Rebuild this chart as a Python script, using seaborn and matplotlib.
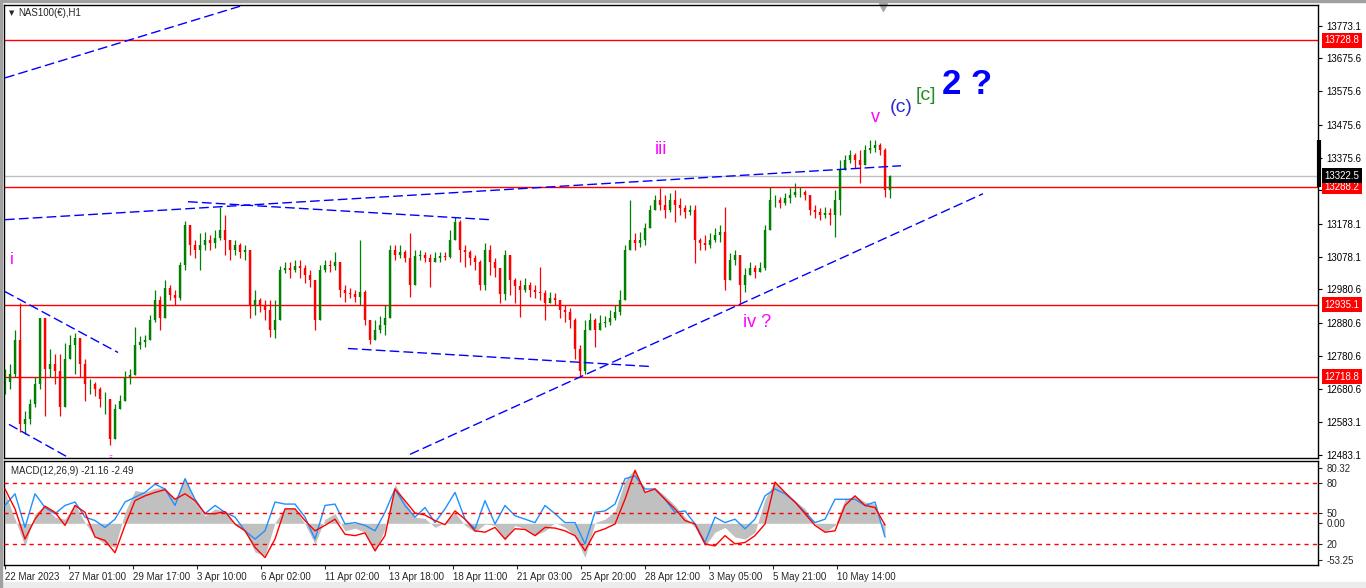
import numpy as np
import matplotlib
matplotlib.use('Agg')
import matplotlib.pyplot as plt
import matplotlib.transforms as mtransforms
from matplotlib.patches import Rectangle
import seaborn as sns

bar_step = 5
closes = [12701, 12725, 12830, 12575, 12590, 12635, 12695, 12896, 12740, 12755,
          12734, 12626, 12770, 12815, 12836, 12755, 12695, 12695, 12680, 12650,
          12650, 12530, 12620, 12644, 12716, 12722, 12815, 12824, 12830, 12890,
          12950, 12896, 12986, 12965, 12956, 13055, 13175, 13115, 13100, 13115,
          13130, 13121, 13136, 13160, 13130, 13100, 13115, 13094, 13100, 12935,
          12950, 12935, 12920, 12860, 12890, 13040, 13046, 13040, 13052, 13046,
          13025, 13010, 12890, 13040, 13055, 13052, 13064, 12980, 12971, 12968,
          12959, 12974, 12890, 12830, 12860, 12875, 12896, 13100, 13085, 13094,
          13076, 12995, 13082, 13085, 13076, 13064, 13076, 13082, 13079, 13130,
          13184, 13100, 13094, 13076, 13064, 12995, 13100, 13064, 13046, 12968,
          13085, 13010, 12992, 12980, 12995, 12980, 12974, 12971, 12941, 12956,
          12950, 12920, 12914, 12890, 12800, 12734, 12860, 12890, 12860, 12881,
          12884, 12896, 12914, 12950, 13100, 13130, 13121, 13130, 13166, 13220,
          13250, 13235, 13220, 13250, 13235, 13226, 13214, 13220, 13130, 13121,
          13115, 13130, 13145, 13154, 13010, 13070, 13085, 12995, 13025, 13046,
          13034, 13046, 13160, 13250, 13250, 13241, 13256, 13265, 13274, 13274,
          13265, 13220, 13214, 13205, 13211, 13205, 13250, 13340, 13370, 13385,
          13370, 13355, 13400, 13406, 13415, 13400, 13280, 13322]
highs = [12740, 12755, 12860, 12941, 12614, 12650, 12716, 12896, 12830, 12800,
         12785, 12785, 12821, 12845, 12851, 12815, 12770, 12710, 12701, 12686,
         12671, 12650, 12635, 12662, 12734, 12740, 12869, 12842, 12845, 12905,
         12980, 12962, 13010, 12995, 12980, 13064, 13187, 13145, 13130, 13151,
         13154, 13145, 13160, 13229, 13205, 13130, 13130, 13121, 13115, 13100,
         12980, 12956, 12950, 12950, 12950, 13052, 13064, 13064, 13070, 13070,
         13055, 13040, 12950, 13055, 13070, 13070, 13094, 13040, 12995, 12986,
         12980, 13130, 12980, 12890, 12890, 12902, 12935, 13115, 13115, 13115,
         13100, 13151, 13100, 13100, 13094, 13088, 13094, 13094, 13094, 13160,
         13199, 13190, 13115, 13100, 13085, 13070, 13121, 13115, 13076, 13046,
         13100, 13055, 13016, 13010, 13016, 13004, 12995, 13049, 12980, 12974,
         12971, 12950, 12935, 12926, 12896, 12815, 12890, 12911, 12896, 12905,
         12902, 12920, 12935, 12980, 13115, 13250, 13151, 13154, 13181, 13235,
         13265, 13286, 13265, 13271, 13280, 13256, 13235, 13235, 13235, 13136,
         13145, 13151, 13166, 13175, 13229, 13091, 13100, 13085, 13046, 13064,
         13055, 13064, 13175, 13289, 13265, 13259, 13271, 13286, 13301, 13289,
         13280, 13265, 13235, 13226, 13229, 13226, 13280, 13370, 13385, 13400,
         13391, 13400, 13415, 13430, 13430, 13421, 13406, 13325]
lows = [12665, 12680, 12716, 12551, 12545, 12575, 12626, 12680, 12599, 12716,
        12695, 12599, 12665, 12770, 12725, 12716, 12644, 12665, 12659, 12626,
        12605, 12512, 12530, 12620, 12656, 12695, 12725, 12800, 12806, 12830,
        12884, 12860, 12950, 12950, 12935, 12950, 13040, 13085, 13076, 13040,
        13100, 13100, 13106, 13130, 13085, 13070, 13085, 13076, 13070, 12896,
        12905, 12914, 12890, 12839, 12836, 12950, 13031, 13016, 13034, 13016,
        13001, 12989, 12860, 12920, 13034, 13034, 13040, 12959, 12944, 12956,
        12944, 12935, 12875, 12818, 12836, 12851, 12845, 12935, 13070, 13076,
        13064, 12959, 13064, 13070, 13064, 12989, 13064, 13064, 13070, 13076,
        13145, 13064, 13049, 13055, 13040, 12980, 12980, 13025, 13019, 12941,
        12950, 12965, 12941, 12899, 12974, 12959, 12956, 12950, 12890, 12944,
        12935, 12896, 12884, 12866, 12770, 12719, 12725, 12860, 12806, 12860,
        12869, 12875, 12890, 12905, 12950, 13100, 13100, 13109, 13115, 13175,
        13226, 13220, 13196, 13214, 13184, 13205, 13196, 13205, 13061, 13100,
        13100, 13106, 13124, 13124, 12980, 13025, 13055, 12941, 12974, 13025,
        13016, 13034, 13040, 13160, 13229, 13226, 13235, 13241, 13259, 13259,
        13250, 13205, 13196, 13190, 13196, 13175, 13139, 13205, 13346, 13361,
        13346, 13301, 13385, 13391, 13394, 13385, 13259, 13256]

# MACD window, sampled every 10 hours
macd_step = 10
macd_hist = [45, 6, -33, 14, 26, 9, 6, 28, 1, -20,
             -30, -35, 16, 48, 45, 51, 52, 35, 67, 31,
             11, 21, 18, -3, -11, -42, -47, 1, 23, 22,
             -1, -30, 6, 14, -11, -7, -13, -42, -8, 57,
             31, 9, 7, -6, 1, 16, -3, -13, -1, -3,
             -25, -3, -8, -18, -11, 1, -6, -18, -50, 1,
             6, 18, 62, 80, 45, 52, 40, 26, 9, -6,
             -33, -13, -6, -20, -23, -13, 35, 62, 43, 33,
             21, -1, -13, -3, 35, 40, 31, 28, -21]
macd_blue = [26, 43, -6, 43, 23, 14, 26, 31, 9, 4,
             -6, 6, 31, 38, 45, 57, 50, 26, 65, 35,
             14, 26, 16, 9, -11, -23, -11, 31, 28, 28,
             9, -23, 26, 28, -1, 1, -3, -11, 16, 50,
             26, 9, 23, 1, 21, 45, 6, -8, 33, -1,
             26, 11, 6, 1, 26, 14, 1, 1, -30, 16,
             18, 28, 65, 69, 50, 50, 35, 16, 18, -1,
             -28, 9, 1, 6, -8, 6, 40, 50, 43, 31,
             16, 1, 6, 35, 35, 35, 26, 31, -20]
macd_signal = [50, 21, -23, 6, 25, 16, -3, 26, 16, -20,
               -25, -43, -3, 33, 40, 45, 49, 35, 43, 33,
               14, 14, 17, -1, -11, -35, -50, -23, 21, 21,
               4, -11, -3, 6, -16, -18, -14, -40, -18, 50,
               33, 15, 12, 4, -2, 18, 6, -11, -13, -6,
               -23, -8, -9, -18, -6, -7, -11, -18, -40, -13,
               -8, -1, 35, 77, 45, 50, 35, 21, 4, -1,
               -30, -33, -18, -30, -28, -18, -1, 60, 45, 31,
               14, -3, -13, -11, 26, 40, 26, 23, -2.5]
macd_levels = [80, 50, 20]

price_ticks = [13773.1, 13675.6, 13575.6, 13475.6, 13375.6, 13278.1, 13178.1,
               13078.1, 12980.6, 12880.6, 12780.6, 12680.6, 12583.1, 12483.1]
red_levels = [13728.8, 13288.2, 12935.1, 12718.8]
bid_price = 13322.5
time_labels = ['22 Mar 2023', '27 Mar 01:00', '29 Mar 17:00', '3 Apr 10:00',
               '6 Apr 02:00', '11 Apr 02:00', '13 Apr 18:00', '18 Apr 11:00',
               '21 Apr 03:00', '25 Apr 20:00', '28 Apr 12:00', '3 May 05:00',
               '5 May 21:00', '10 May 14:00']
hours_per_label = 64

# drawn trend lines: (hour, price) -> (hour, price)
trend_lines = [((0, 13616), (250, 13845)),
               ((0, 13190), (896, 13352)),
               ((183, 13244), (485, 13190)),
               ((0, 12974), (113, 12791)),
               ((4, 12575), (75, 12456)),
               ((343, 12803), (645, 12749)),
               ((405, 12485), (978, 13268))]

# wave count labels: text, hour, price, colour, size, weight
wave_labels = [('i', 7, 13069, '#ff00ff', 12, 'normal'),
               ('iii', 656, 13400, '#ff00ff', 13, 'normal'),
               ('iv ?', 752, 12880, '#ff00ff', 13, 'normal'),
               ('v', 870, 13496, '#ff00ff', 13, 'normal'),
               ('(c)', 896, 13526, '#2b2bd6', 14, 'normal'),
               ('[c]', 921, 13562, '#1f8f1f', 14, 'normal'),
               ('2 ?', 962, 13595, '#0000ff', 25, 'bold')]

sns.set_style('white')
plt.rcParams['font.family'] = ['Liberation Sans', 'DejaVu Sans']

W, H = 1366, 588
fig = plt.figure(figsize=(W / 100, H / 100), dpi=100)
fig.patch.set_facecolor('white')


def frac(x0, y0, x1, y1):
    return [x0 / W, 1 - y1 / H, (x1 - x0) / W, (y1 - y0) / H]


ax = fig.add_axes(frac(4, 5, 1318, 458))
axm = fig.add_axes(frac(4, 461, 1318, 565))
xlim = (-1, 1313)

# candles
c = np.array(closes, dtype=float)
o = np.r_[c[0], c[:-1]]
hi = np.maximum(highs, np.maximum(o, c))
lo = np.minimum(lows, np.minimum(o, c))
hours = np.arange(len(c)) * bar_step
col = np.where(c >= o, '#008000', '#ff0000')
ax.vlines(hours, lo, hi, colors=col, lw=0.9, zorder=3)
ax.vlines(hours, np.minimum(o, c), np.maximum(o, c), colors=col, lw=1.7, zorder=3)

for p in red_levels:
    ax.axhline(p, color='#ff0000', lw=1, zorder=2)
ax.axhline(bid_price, color='#c0c0c0', lw=1, zorder=1)

for (x0, y0), (x1, y1) in trend_lines:
    ax.plot([x0, x1], [y0, y1], color='#0000ff', lw=1, dashes=(7, 3), zorder=4)

for txt, hx, py, clr, fs, fw in wave_labels:
    ax.text(hx, py, txt, color=clr, fontsize=fs, fontweight=fw,
            ha='center', va='center', zorder=6)
ax.text(106, 12483, 'ii', color='#ff00ff', fontsize=8, ha='center', va='top',
        clip_on=True, zorder=6)

ax.set_xlim(*xlim)
ax.set_ylim(12474, 13835)
ax.yaxis.tick_right()
ax.set_yticks(price_ticks)
ax.set_yticklabels([f'{v:.1f}' for v in price_ticks])
ax.tick_params(axis='y', direction='out', length=3, width=0.8, pad=3,
               labelsize=7, colors='black')
ax.tick_params(axis='x', bottom=False, labelbottom=False)
for s in ax.spines.values():
    s.set_color('black')
    s.set_linewidth(1)

trans = mtransforms.blended_transform_factory(ax.transAxes, ax.transData)
for p in red_levels:
    ax.text(1.0048, p, f'{p:.1f}', transform=trans, ha='left', va='center',
            color='white', fontsize=7, clip_on=False, zorder=7,
            bbox=dict(boxstyle='square,pad=0.25', fc='#ff0000', ec='none'))
ax.text(1.0048, bid_price, f'{bid_price:.1f}', transform=trans, ha='left',
        va='center', color='white', fontsize=7, clip_on=False, zorder=8,
        bbox=dict(boxstyle='square,pad=0.25', fc='black', ec='none'))
ax.plot([1.001, 1.001], [hi[-12:].max(), lo[-1] + 33], transform=trans,
        color='black', lw=3, clip_on=False, solid_capstyle='butt')
ax.plot([878], [13829], marker='v', color='#a8a8a8', ms=6, clip_on=False)

ax.text(0.004, 0.982, '\u25bc', transform=ax.transAxes, fontsize=5,
        va='center', ha='left', family=['DejaVu Sans'])
ax.text(0.011, 0.982, 'NAS100(\u20ac),H1', transform=ax.transAxes, fontsize=7,
        va='center', ha='left')

# MACD window
mx = np.arange(len(macd_hist)) * macd_step
axm.fill_between(mx, 0, macd_hist, color='#c0c0c0', lw=0, zorder=1)
sns.lineplot(x=mx, y=macd_blue, ax=axm, color='#1e90ff', lw=1, zorder=3)
sns.lineplot(x=mx, y=macd_signal, ax=axm, color='#ff0000', lw=1, zorder=4)
axm.set_xlim(*xlim)
axm.set_ylim(-60.8, 90.8)

axl = axm.twinx()
axl.set_ylim(-0.2, 101.1)
for lv in macd_levels:
    axl.axhline(lv, color='#ff0000', lw=1, dashes=(3, 3))
axl.set_yticks(macd_levels)
axl.set_yticklabels([str(v) for v in macd_levels])
axl.tick_params(axis='y', direction='out', length=3, width=0.8, pad=3, labelsize=7)
for s in axl.spines.values():
    s.set_visible(False)

axm.yaxis.tick_right()
axm.set_yticks([80.32, 0, -53.25])
axm.set_yticklabels(['80.32', '0.00', '-53.25'])
axm.tick_params(axis='y', direction='out', length=3, width=0.8, pad=3, labelsize=7,
                left=False, labelleft=False, right=True, labelright=True)
axm.set_xticks(np.arange(len(time_labels)) * hours_per_label)
axm.set_xticklabels(time_labels)
for lbl in axm.get_xticklabels():
    lbl.set_ha('left')
axm.tick_params(axis='x', direction='out', length=3, width=0.8, pad=2, labelsize=7,
                bottom=True)
for s in axm.spines.values():
    s.set_color('black')
    s.set_linewidth(1)
axm.text(0.005, 0.9, 'MACD(12,26,9) -21.16 -2.49', transform=axm.transAxes,
         fontsize=7, va='center', ha='left')

fig.patches.append(Rectangle((0, 0), 1, 6 / H, transform=fig.transFigure,
                             color='#ececec', zorder=0))
fig.patches.append(Rectangle((0, 0), 2 / W, 1, transform=fig.transFigure,
                             color='#a0a0a0', zorder=0))
fig.patches.append(Rectangle((0, 1 - 2 / H), 1, 2 / H, transform=fig.transFigure,
                             color='#a0a0a0', zorder=0))

fig.savefig('out.png', dpi=100, facecolor='white')
